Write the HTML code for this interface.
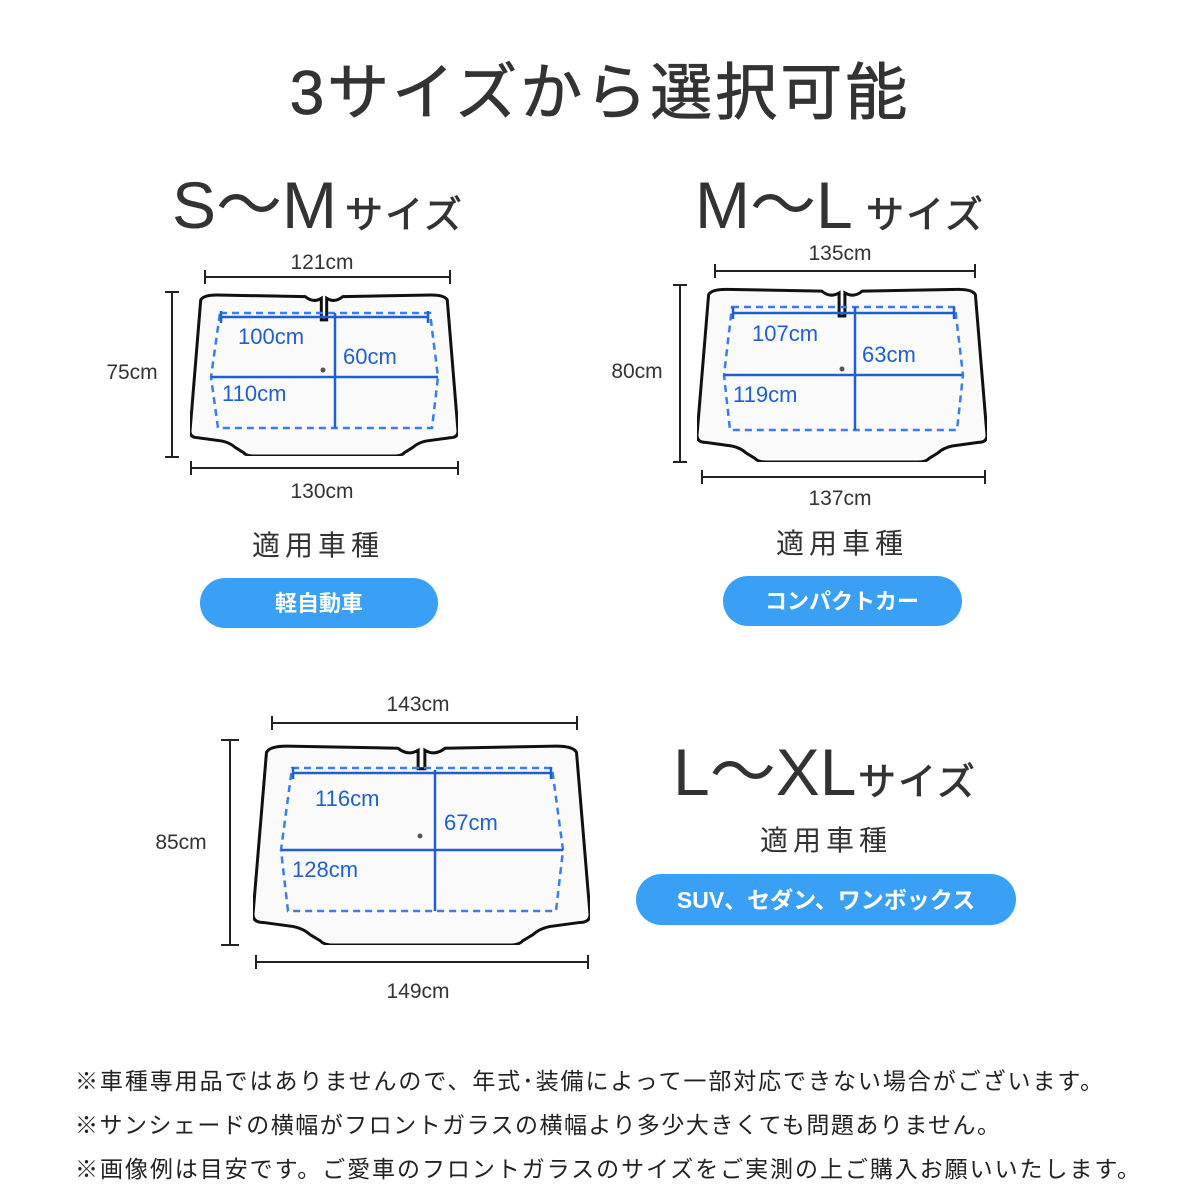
<!DOCTYPE html>
<html><head><meta charset="utf-8"><style>
html,body{margin:0;padding:0;background:#fff}
svg{display:block}
text{font-family:"Liberation Sans","Noto Sans CJK JP",sans-serif}
.t{fill:#333}
.d{fill:#333;font-size:21px;text-anchor:middle}
.b{fill:#1f5fd6;font-size:22px}
.dim{stroke:#222;stroke-width:2;fill:none}
.bl{stroke:#1f5fd6;stroke-width:2.5;fill:none}
.ds{stroke:#3b7cf0;stroke-width:2.5;fill:none;stroke-dasharray:7 5}
.note{fill:#222;font-size:23px}
</style></head><body>
<svg width="1200" height="1200" viewBox="0 0 1200 1200" xmlns="http://www.w3.org/2000/svg">
<text x="600" y="114" text-anchor="middle" class="t" font-size="62" letter-spacing="3" stroke="#333" stroke-width="0.8">3サイズから選択可能</text>

<!-- S-M -->
<text x="172" y="228" class="t" font-size="66">S～M</text>
<text x="345" y="228" class="t" font-size="38" letter-spacing="2" stroke="#333" stroke-width="0.8">サイズ</text>
<svg x="190" y="290" width="268" height="166" viewBox="0 0 100 100" preserveAspectRatio="none">
<path d="M4,6 Q5,3 10,3 L43,4 Q46,8 49,5 L49,18 L51,18 L51,5 Q54,8 57,4 L90,3 Q95,3 96,6 L100,85 Q100,89 97,89 L88,91 Q85,92 83,95 L80,98 Q79,100 76,100 L24,100 Q21,100 20,98 L17,95 Q15,92 12,91 L3,89 Q0,89 0,85 Z" fill="#fafafa" stroke="#111" stroke-width="3" vector-effect="non-scaling-stroke"/>
</svg>
<path class="ds" d="M220,313 L430,313 L438,377 L432,428 L218,428 L211,377 Z" fill="#e8e8e8"/>
<path class="bl" d="M221,317 L428,317 M221,311 V323 M428,311 V323 M335,313 V428 M211,377 H438"/>
<circle cx="323" cy="370" r="2.5" fill="#555"/>
<text x="238" y="344" class="b">100cm</text><text x="343" y="364" class="b">60cm</text><text x="222" y="401" class="b">110cm</text>
<path class="dim" d="M205,277 H450 M205,270 V284 M450,270 V284 M172,292 V457 M165,292 H179 M165,457 H179 M191,468 H458 M191,461 V475 M458,461 V475"/>
<text x="322" y="269" class="d">121cm</text><text x="132" y="379" class="d">75cm</text><text x="322" y="498" class="d">130cm</text>
<text x="318" y="555" class="t" font-size="28" text-anchor="middle" letter-spacing="5">適用車種</text>
<rect x="200" y="578" width="238" height="50" rx="25" fill="#3aa0f5"/>
<text x="319" y="611" font-size="22" font-weight="bold" fill="#fff" text-anchor="middle">軽自動車</text>

<!-- M-L -->
<text x="695" y="228" class="t" font-size="66">M～L</text>
<text x="866" y="228" class="t" font-size="38" letter-spacing="2" stroke="#333" stroke-width="0.8">サイズ</text>
<svg x="697" y="284" width="290" height="178" viewBox="0 0 100 100" preserveAspectRatio="none">
<path d="M4,6 Q5,3 10,3 L43,4 Q46,8 49,5 L49,18 L51,18 L51,5 Q54,8 57,4 L90,3 Q95,3 96,6 L100,85 Q100,89 97,89 L88,91 Q85,92 83,95 L80,98 Q79,100 76,100 L24,100 Q21,100 20,98 L17,95 Q15,92 12,91 L3,89 Q0,89 0,85 Z" fill="#fafafa" stroke="#111" stroke-width="3" vector-effect="non-scaling-stroke"/>
</svg>
<path class="ds" d="M732,307 L955,307 L963,375 L957,430 L730,430 L724,375 Z" fill="#e8e8e8"/>
<path class="bl" d="M733,313 L954,313 M733,307 V319 M954,307 V319 M855,307 V430 M724,375 H962"/>
<circle cx="842" cy="369" r="2.5" fill="#555"/>
<text x="752" y="341" class="b">107cm</text><text x="862" y="362" class="b">63cm</text><text x="733" y="402" class="b">119cm</text>
<path class="dim" d="M715,271 H975 M715,264 V278 M975,264 V278 M680,285 V462 M673,285 H687 M673,462 H687 M702,477 H985 M702,470 V484 M985,470 V484"/>
<text x="840" y="260" class="d">135cm</text><text x="637" y="378" class="d">80cm</text><text x="840" y="505" class="d">137cm</text>
<text x="842" y="553" class="t" font-size="28" text-anchor="middle" letter-spacing="5">適用車種</text>
<rect x="723" y="576" width="239" height="50" rx="25" fill="#3aa0f5"/>
<text x="842" y="609" font-size="22" font-weight="bold" fill="#fff" text-anchor="middle">コンパクトカー</text>

<!-- L-XL -->
<svg x="253" y="740" width="337" height="205" viewBox="0 0 100 100" preserveAspectRatio="none">
<path d="M4,6 Q5,3 10,3 L43,4 Q46,8 49,5 L49,14 L51,14 L51,5 Q54,8 57,4 L90,3 Q95,3 96,6 L100,85 Q100,89 97,89 L88,91 Q85,92 83,95 L80,98 Q79,100 76,100 L24,100 Q21,100 20,98 L17,95 Q15,92 12,91 L3,89 Q0,89 0,85 Z" fill="#fafafa" stroke="#111" stroke-width="3" vector-effect="non-scaling-stroke"/>
</svg>
<path class="ds" d="M292,768 L552,768 L563,850 L556,911 L288,911 L281,850 Z" fill="#e8e8e8"/>
<path class="bl" d="M293,773 L551,773 M293,767 V779 M551,767 V779 M435,770 V911 M281,850 H563"/>
<circle cx="420" cy="836" r="2.5" fill="#555"/>
<text x="315" y="806" class="b" font-size="26">116cm</text><text x="444" y="830" class="b" font-size="26">67cm</text><text x="292" y="877" class="b" font-size="26">128cm</text>
<path class="dim" d="M272,723 H577 M272,716 V730 M577,716 V730 M230,740 V945 M221,740 H239 M221,945 H239 M256,962 H588 M256,955 V969 M588,955 V969"/>
<text x="418" y="711" class="d" font-size="23">143cm</text><text x="181" y="849" class="d" font-size="23">85cm</text><text x="418" y="998" class="d" font-size="23">149cm</text>
<text x="673" y="795" class="t" font-size="66">L～XL</text>
<text x="858" y="795" class="t" font-size="38" letter-spacing="2" stroke="#333" stroke-width="0.8">サイズ</text>
<text x="826" y="850" class="t" font-size="28" text-anchor="middle" letter-spacing="5">適用車種</text>
<rect x="636" y="874" width="380" height="51" rx="25.5" fill="#3aa0f5"/>
<text x="826" y="908" font-size="23" font-weight="bold" fill="#fff" text-anchor="middle">SUV、セダン、ワンボックス</text>

<text x="75" y="1089" class="note" textLength="1028" lengthAdjust="spacing">※車種専用品ではありませんので、年式･装備によって一部対応できない場合がございます。</text>
<text x="75" y="1133" class="note" textLength="925" lengthAdjust="spacing">※サンシェードの横幅がフロントガラスの横幅より多少大きくても問題ありません。</text>
<text x="75" y="1177" class="note" textLength="1065" lengthAdjust="spacing">※画像例は目安です。ご愛車のフロントガラスのサイズをご実測の上ご購入お願いいたします。</text>
</svg>
</body></html>
